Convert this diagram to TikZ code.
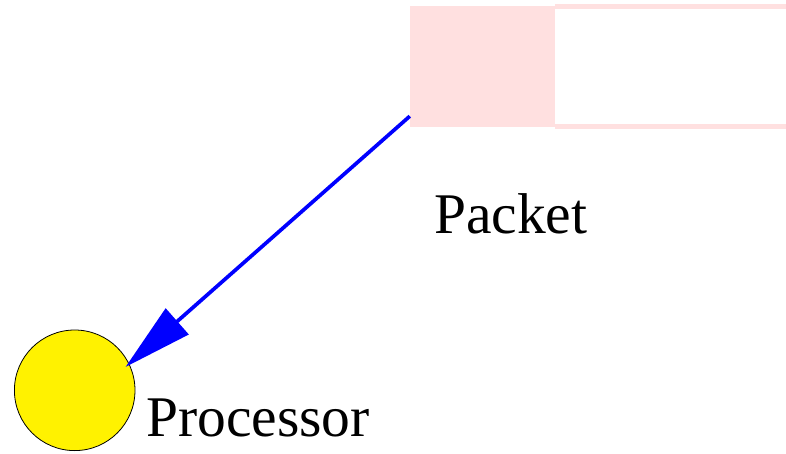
\documentclass[tikz,border=0pt]{standalone}
\usepackage{fontspec}
\setmainfont{Liberation Serif}
\usetikzlibrary{arrows.meta}
\definecolor{pinkfill}{RGB}{255,224,224}
\definecolor{arrowblue}{RGB}{0,0,255}
\tikzset{
  lbl/.style={anchor=base west, inner sep=0pt, font=\fontsize{57.5}{62}\selectfont},
  queuebox/.style={draw=none, fill=none, inner sep=0pt},
  queueline/.style={draw=pinkfill, line width=4.5pt},
  headbox/.style={fill=pinkfill, draw=none, inner sep=0pt},
  procnode/.style={circle, fill=yellow, draw=black, line width=0.8pt, inner sep=0pt},
  flow/.style={draw=arrowblue, line width=3.7pt, -{Triangle[length=69pt,width=34pt]}}
}
\begin{document}
\begin{tikzpicture}[x=1pt,y=-1pt]
\useasboundingbox (0,0) rectangle (786,454);
\clip (0,0) rectangle (786,454);
\node[queuebox, minimum width=345pt, minimum height=119.8pt] (queue) at (727.5,66.6) {};
\draw[queueline] (queue.south west) -- (queue.south east) -- (queue.north east) -- (queue.north west);
\node[headbox, minimum width=145pt, minimum height=121pt] (pkt) at (482.5,66.5) {};
\node[procnode, minimum size=120.6pt] (proc) at (74.7,390.3) {};
\node[lbl] (pktlabel) at (434,233.3) {Packet};
\node[lbl] (proclabel) at (146,436) {Processor};
\draw[flow, shorten >=-5pt] ([yshift=11pt]pkt.south west) -- (proc.26.5);
\end{tikzpicture}
\end{document}
